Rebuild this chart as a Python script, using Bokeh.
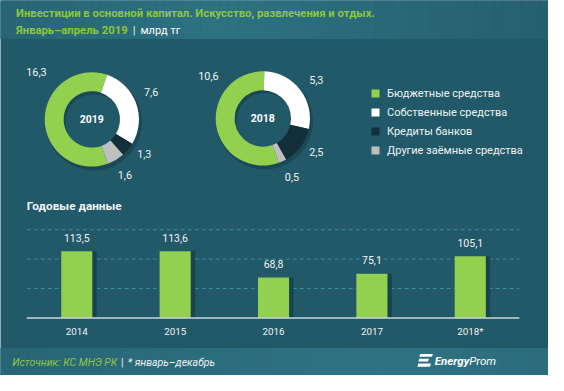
import math
from bokeh.plotting import figure
from bokeh.models import Range1d, Legend, LegendItem, ColumnDataSource
from bokeh.embed import file_html
from bokeh.resources import INLINE
from bokeh.core.properties import value

# ---------------- data ----------------
categories = ["Бюджетные средства", "Собственные средства", "Кредиты банков", "Другие заёмные средства"]
donut_years = ["2019", "2018"]
values_2019 = [16.3, 7.6, 1.3, 1.6]
values_2018 = [10.6, 5.3, 2.5, 0.5]
bar_years = ["2014", "2015", "2016", "2017", "2018*"]
bar_values = [113.5, 113.6, 68.8, 75.1, 105.1]
grid_values = [50, 100, 150]

title_line1 = "Инвестиции в основной капитал. Искусство, развлечения и отдых."
title_line2 = "Январь–апрель 2019"
unit_text = "млрд тг"
bar_title = "Годовые данные"
source_text = "Источник: КС МНЭ РК"
note_text = "* январь–декабрь"


def fmt(v):
    return f"{v:.1f}".replace(".", ",")


# ---------------- style / layout ----------------
FONT = "Roboto"
BG = "#225968"
GREEN = "#92d050"
TITLE_GREEN = "#8dc63f"
WHITE_TXT = "#eef3f4"
slice_colors = ["#92d050", "#ffffff", "#132f39", "#bfbfbf"]
W, H = 548, 375
REF_W, REF_H = 564, 391          # layout coordinate space
BASE_Y = 331                      # baseline of bar panel (layout px)
PX_PER_UNIT = 92 / 150            # layout px per value unit
BAR_X0, BAR_X1 = 27, 534          # extent of bar panel (layout px)
CAT_STEP = 101.25                 # layout px per category
R_OUT, R_IN = 48.5, 29
START_DEG = 160                   # first slice angle, clockwise from 12 o'clock
CENTERS = {"2019": (94, 124), "2018": (270, 123)}
LABEL_OFFSETS = {
    "2019": [(-57, -49), (61, -29), (54, 36), (34, 58)],
    "2018": [(-56, -44), (55, -40), (55, 35), (30, 61)],
}
SY = H / REF_H


def mix(c1, c2, t):
    a = [int(c1[i:i + 2], 16) for i in (1, 3, 5)]
    b = [int(c2[i:i + 2], 16) for i in (1, 3, 5)]
    return "#%02x%02x%02x" % tuple(round(a[k] + (b[k] - a[k]) * t) for k in range(3))


p = figure(width=W, height=H, x_range=Range1d(0, REF_W), y_range=Range1d(REF_H, 0),
           output_backend="svg", toolbar_location=None,
           x_axis_location=None, y_axis_location=None, min_border=0)
p.grid.visible = False
p.outline_line_color = None
p.background_fill_color = BG
p.border_fill_color = BG

# category index scale: first category centre at 78.5 layout px
first_c = 78.5
p.extra_x_ranges = {"cat": Range1d(start=-first_c / CAT_STEP, end=(REF_W - first_c) / CAT_STEP)}
p.extra_y_ranges = {"val": Range1d(start=-(REF_H - BASE_Y) / PX_PER_UNIT, end=BASE_Y / PX_PER_UNIT)}


def band(y0, y1, edge, mid, center_x, n=60):
    lefts = [REF_W * i / n for i in range(n)]
    rights = [REF_W * (i + 1) / n for i in range(n)]
    cols = []
    for i in range(n):
        xc = (lefts[i] + rights[i]) / 2
        d = abs(xc - center_x) / max(center_x, REF_W - center_x)
        cols.append(mix(mid, edge, d))
    p.quad(left=lefts, right=rights, top=y0, bottom=y1, fill_color=cols, line_color=cols)


def txt(x, y, s, size, color, bold=False, italic=False, align="left", baseline="middle"):
    style = "bold italic" if (bold and italic) else ("bold" if bold else ("italic" if italic else "normal"))
    p.text(x=[x], y=[y], text=[s], text_font=value(FONT), text_font_size=size,
           text_font_style=style, text_color=color, text_align=align, text_baseline=baseline)


# ---------------- header ----------------
band(0, 39.5, "#25606f", "#2e7282", 230)
txt(16, 14, title_line1, "11.3px", TITLE_GREEN, bold=True)
txt(16, 31, title_line2, "11.3px", TITLE_GREEN, bold=True)
txt(136, 31, "|", "11.3px", "#d7e8c0", bold=True)
txt(144, 31, unit_text, "11px", "#ffffff")


# ---------------- donuts ----------------
def donut(vals, year):
    cx, cy = CENTERS[year]
    total = sum(vals)
    starts, ends = [], []
    acc = START_DEG
    for v in vals:
        span = v / total * 360
        a, b = acc, acc + span
        starts.append(math.radians(90 - b))
        ends.append(math.radians(90 - a))
        acc = b
    src = ColumnDataSource(dict(cat=categories, val=vals, color=slice_colors, start=starts, end=ends))
    p.annulus(x=[cx + 2], y=[cy + 3], inner_radius=R_IN, outer_radius=R_OUT + 1,
              fill_color="#163e4a", fill_alpha=0.6, line_color=None)
    r = p.annular_wedge(x=cx, y=cy, inner_radius=R_IN, outer_radius=R_OUT,
                        start_angle="start", end_angle="end", fill_color="color",
                        line_color=None, source=src)
    offs = LABEL_OFFSETS[year]
    p.text(x=[cx + dx for dx, dy in offs], y=[cy + dy for dx, dy in offs],
           text=[fmt(v) for v in vals], text_font=value(FONT), text_font_size="10.8px",
           text_color=WHITE_TXT, text_align="center", text_baseline="middle")
    txt(cx, cy, year, "10.5px", "#ffffff", bold=True, align="center")
    return r


r19 = donut(values_2019, "2019")
r18 = donut(values_2018, "2018")

legend = Legend(items=[LegendItem(label=c, renderers=[r19], index=i) for i, c in enumerate(categories)],
                location=(370, 218), orientation="vertical",
                background_fill_alpha=0, border_line_color=None,
                label_text_color=WHITE_TXT, label_text_font=FONT, label_text_font_size="11px",
                glyph_width=10, glyph_height=10, label_height=14, label_standoff=7,
                spacing=5, padding=0, margin=0)
p.add_layout(legend)

# ---------------- bar panel ----------------
txt(BAR_X0, 214, bar_title, "11.8px", WHITE_TXT, bold=True)

p.segment(x0=BAR_X0, x1=BAR_X1, y0=grid_values, y1=grid_values, y_range_name="val",
          line_color="#3a8ca3", line_width=1, line_dash="4 3")

idx = list(range(len(bar_years)))
bsrc = ColumnDataSource(dict(i=idx, i_sh=[k + 0.045 for k in idx], year=bar_years, val=bar_values,
                             label=[fmt(v) for v in bar_values]))
bar_w = 0.316
p.vbar(x="i_sh", top="val", bottom=0, width=bar_w,
       source=bsrc, fill_color="#173e4a", fill_alpha=0.8, line_color=None,
       x_range_name="cat", y_range_name="val")
p.vbar(x="i", top="val", bottom=0, width=bar_w, source=bsrc, fill_color=GREEN, line_color=None,
       x_range_name="cat", y_range_name="val")
p.text(x="i", y="val", text="label", source=bsrc, y_offset=-14 * SY,
       x_range_name="cat", y_range_name="val",
       text_font=value(FONT), text_font_size="10.5px", text_color=WHITE_TXT,
       text_align="center", text_baseline="middle")

# axis line + category labels
p.segment(x0=[BAR_X0], x1=[BAR_X1], y0=[0], y1=[0], y_range_name="val",
          line_color="#c9d7db", line_width=1.5)
p.text(x="i", y=0, text="year", source=bsrc, y_offset=14 * SY,
       x_range_name="cat", y_range_name="val",
       text_font=value(FONT), text_font_size="9.8px", text_color=WHITE_TXT,
       text_align="center", text_baseline="middle")

# ---------------- footer ----------------
band(363, REF_H, "#286675", "#2f7383", 380)
txt(12, 377, source_text, "10.5px", TITLE_GREEN, italic=True)
txt(124, 377, "|", "10.5px", WHITE_TXT)
txt(131, 377, note_text, "10.5px", WHITE_TXT, italic=True)
p.patches(xs=[[432, 445, 444, 431], [431, 441, 440, 430], [430, 443, 442, 429]],
          ys=[[368.5, 368.5, 371.5, 371.5], [373.5, 373.5, 376.5, 376.5], [378.5, 378.5, 382, 382]],
          fill_color="#ffffff", line_color=None)
txt(447, 376, "Energy", "11.5px", "#ffffff", bold=True, italic=True)
txt(510, 376, "Prom", "11.5px", "#ffffff", italic=True, align="right")

open("out.html", "w").write(file_html(p, INLINE))
